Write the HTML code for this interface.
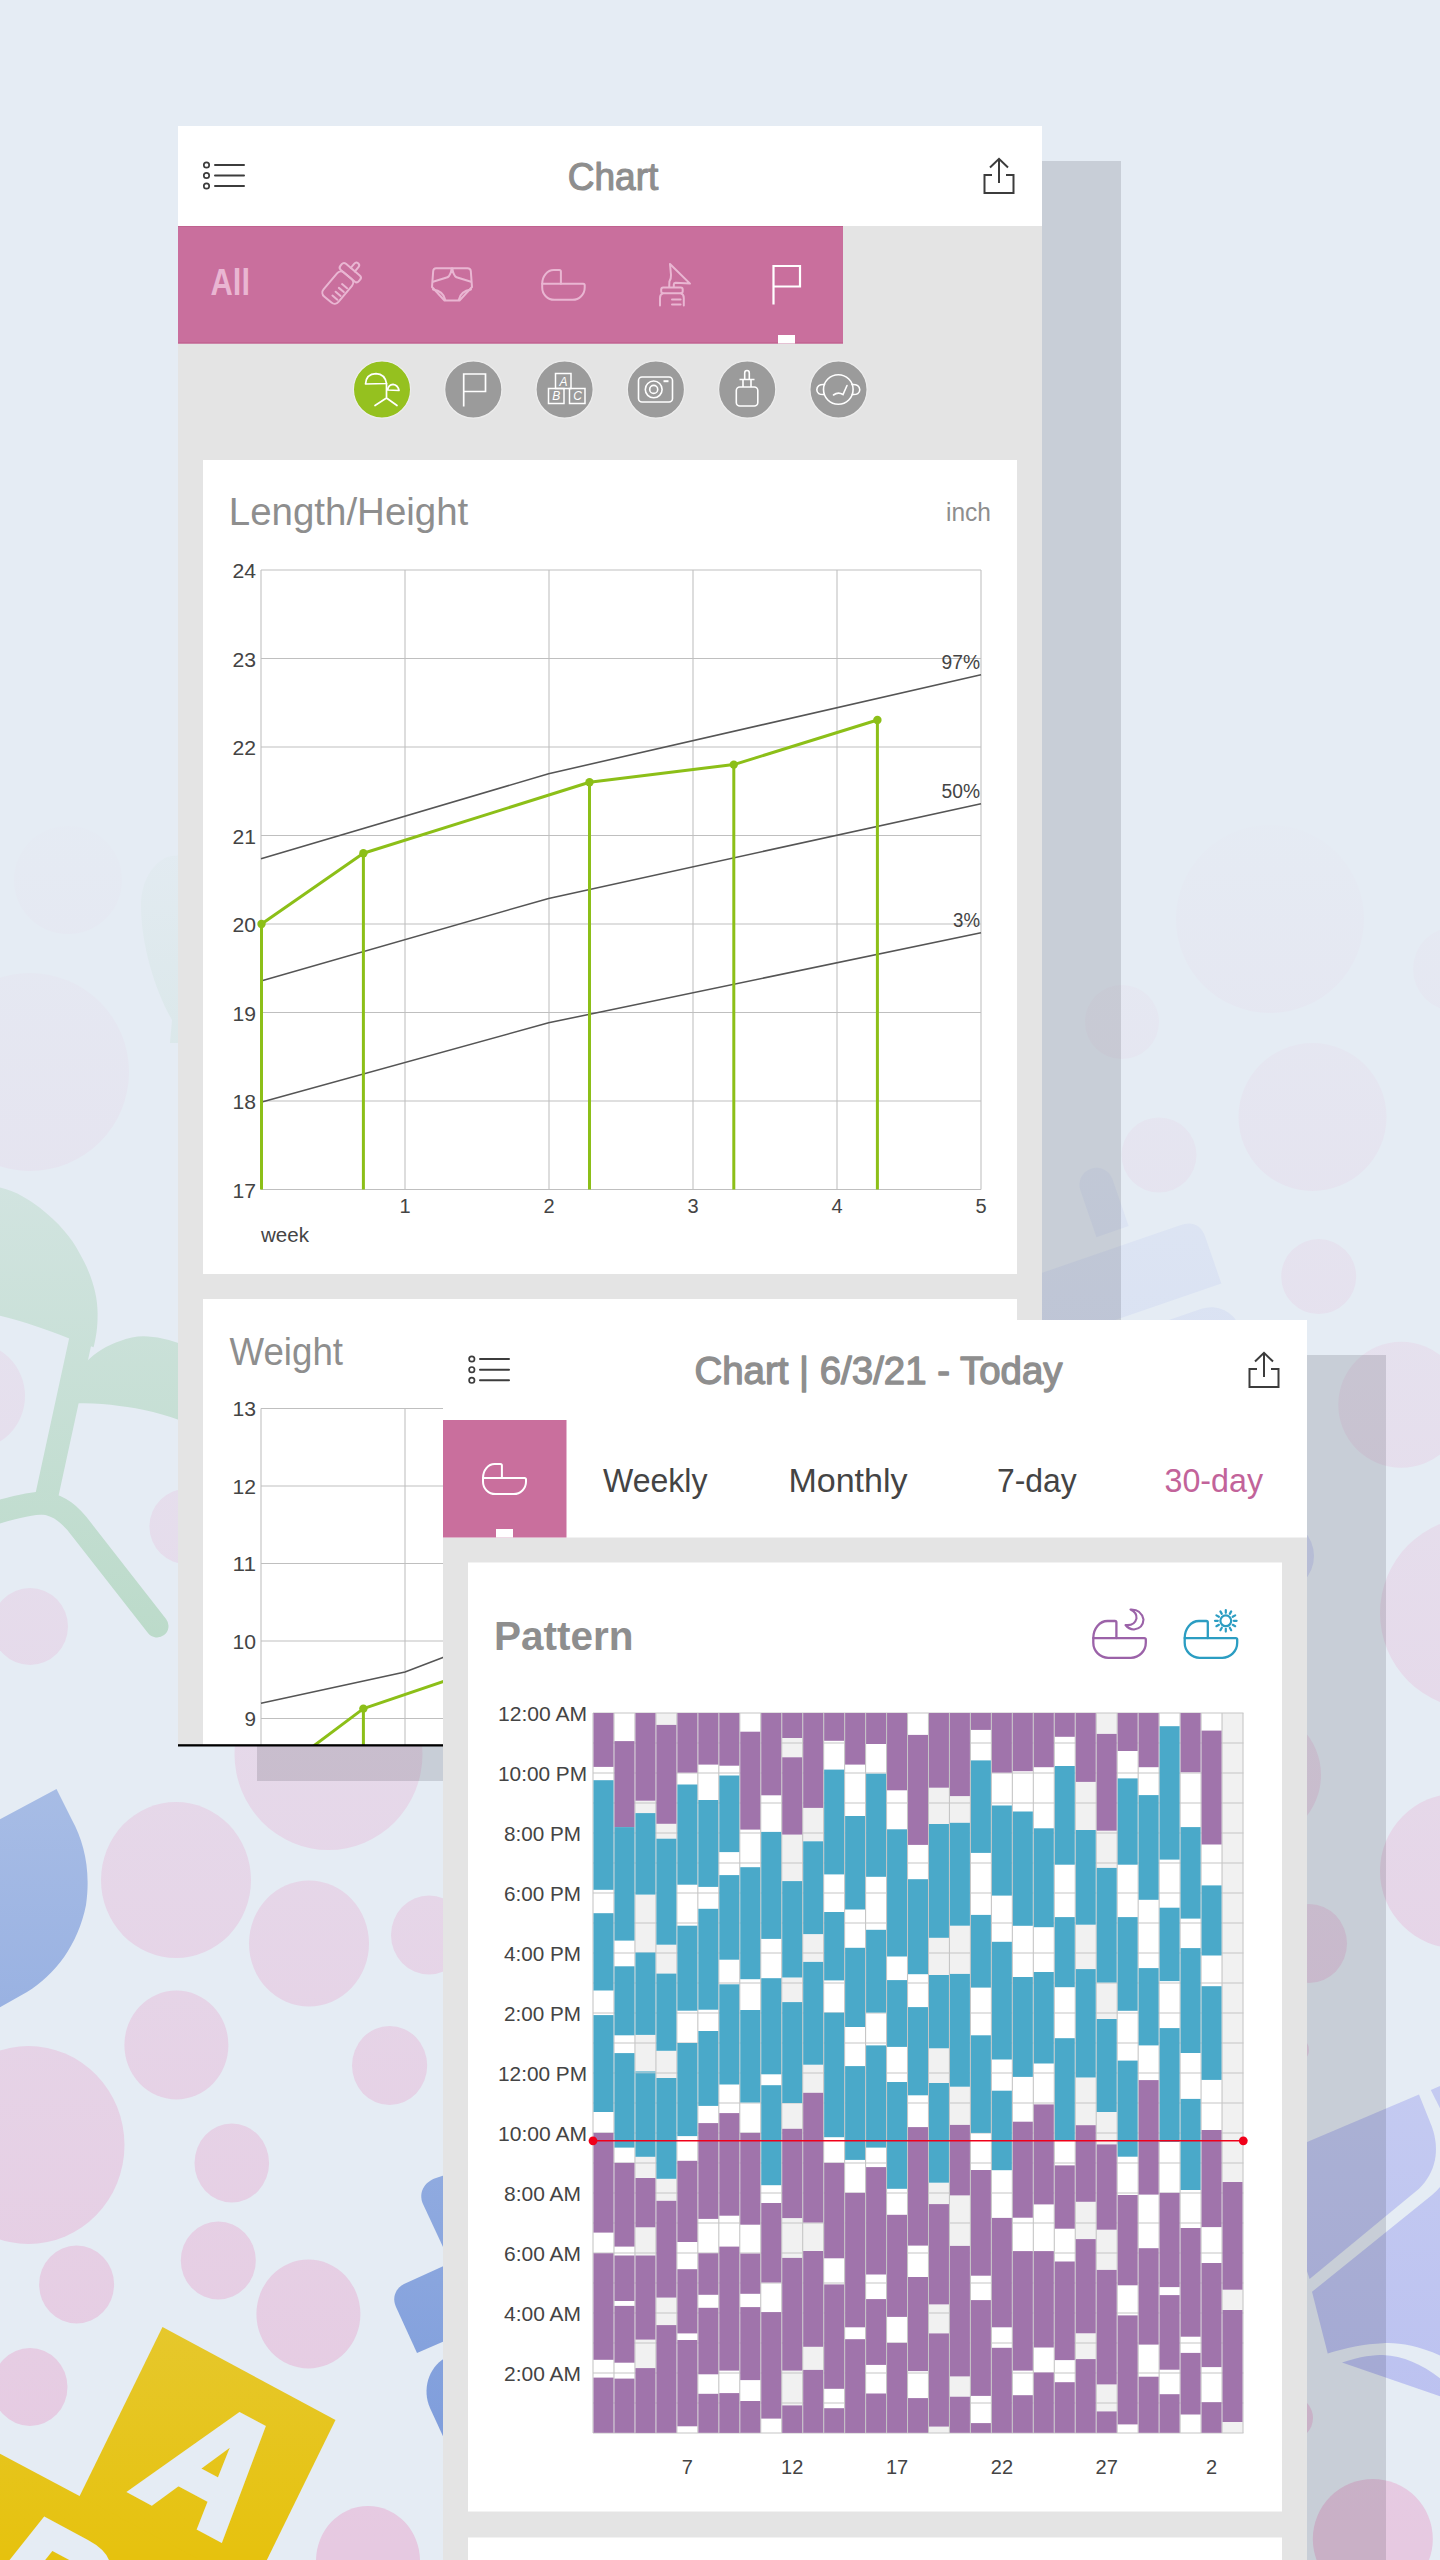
<!DOCTYPE html>
<html lang="en"><head><meta charset="utf-8"><title>Chart</title>
<style>html,body{margin:0;padding:0;background:#e5ecf4;}body{width:1440px;height:2560px;overflow:hidden;}svg{display:block;font-family:"Liberation Sans",sans-serif;}</style></head>
<body>
<svg width="1440" height="2560" viewBox="0 0 1440 2560">
<rect x="0" y="0" width="1440" height="2560" fill="#e5ecf4"/>
<g id="bg-shapes">
<ellipse cx="68" cy="880" rx="54" ry="54" fill="#e6c9e1"/>
<ellipse cx="30" cy="1072" rx="99" ry="99" fill="#e6c9e1"/>
<ellipse cx="-29" cy="1396" rx="54" ry="54" fill="#e6c9e1"/>
<ellipse cx="30" cy="1626.5" rx="38" ry="38.5" fill="#e6c9e1"/>
<ellipse cx="187.4" cy="1526.5" rx="38" ry="38" fill="#e6c9e1"/>
<ellipse cx="328.5" cy="1754" rx="94" ry="96" fill="#e6c9e1"/>
<ellipse cx="176" cy="1880" rx="75" ry="78" fill="#e6c9e1"/>
<ellipse cx="309" cy="1943.5" rx="60" ry="63" fill="#e6c9e1"/>
<ellipse cx="429" cy="1935" rx="38" ry="39.5" fill="#e6c9e1"/>
<ellipse cx="176.4" cy="2045" rx="52" ry="54.5" fill="#e6c9e1"/>
<ellipse cx="389.6" cy="2065.5" rx="37.6" ry="39.5" fill="#e6c9e1"/>
<ellipse cx="28.5" cy="2145" rx="96" ry="99" fill="#e6c9e1"/>
<ellipse cx="231.8" cy="2163" rx="37.3" ry="39.5" fill="#e6c9e1"/>
<ellipse cx="218.3" cy="2260.5" rx="37.5" ry="39" fill="#e6c9e1"/>
<ellipse cx="308.4" cy="2314" rx="52" ry="54.5" fill="#e6c9e1"/>
<ellipse cx="76.6" cy="2284.5" rx="37.5" ry="39" fill="#e6c9e1"/>
<ellipse cx="30" cy="2387" rx="37.5" ry="39" fill="#e6c9e1"/>
<ellipse cx="368" cy="2561" rx="52" ry="55" fill="#e6c9e1"/>
<ellipse cx="1270" cy="919" rx="94" ry="94" fill="#e6c9e1"/>
<ellipse cx="1312.5" cy="1117" rx="74" ry="74" fill="#e6c9e1"/>
<ellipse cx="1159" cy="1155" rx="37.5" ry="37.5" fill="#e6c9e1"/>
<ellipse cx="1122" cy="1022" rx="37" ry="37" fill="#e6c9e1"/>
<ellipse cx="1318.7" cy="1276.6" rx="37.5" ry="37.5" fill="#e6c9e1"/>
<ellipse cx="1401.3" cy="1404.7" rx="63" ry="63" fill="#e6c9e1"/>
<ellipse cx="1455" cy="969" rx="42" ry="42" fill="#e6c9e1"/>
<ellipse cx="1476" cy="1613" rx="96" ry="96" fill="#e6c9e1"/>
<ellipse cx="1457.6" cy="1871" rx="77.6" ry="77.6" fill="#e6c9e1"/>
<ellipse cx="1309" cy="1943.5" rx="38" ry="39.5" fill="#e6c9e1"/>
<ellipse cx="1255" cy="1775" rx="66" ry="66" fill="#e6c9e1"/>
<ellipse cx="1372.8" cy="2539" rx="60" ry="60" fill="#e6c9e1"/>
<ellipse cx="1292" cy="2418" rx="21" ry="21.5" fill="#e6c9e1"/>
<ellipse cx="1293" cy="2050" rx="16" ry="14" fill="#e6c9e1"/>
<ellipse cx="150" cy="180" rx="60" ry="60" fill="#e6c9e1"/>
<ellipse cx="1180" cy="520" rx="70" ry="70" fill="#e6c9e1"/>
<ellipse cx="1300" cy="300" rx="45" ry="45" fill="#e6c9e1"/>
<circle cx="1278" cy="1556" r="36" fill="#b8bef0"/>
<g fill="#90c89d">
<path d="M-5 1186.5 C15 1190 28 1199 39.8 1207.8 C58 1222 72 1238 79.7 1253.6 C92 1275 98 1296 97.6 1315.3 C97.6 1328 96 1338 93.6 1347.2 L68.7 1338.2 C48 1330 20 1320 -5 1314.5 Z"/>
<path d="M86 1362 C96 1352 108 1345 119.5 1341.2 C128 1338 136 1336.3 143.4 1336.3 C156 1336.5 168 1339 190 1347 L190 1424 C165 1414 140 1408 119.5 1406 C105 1404 92 1403 76 1403.5 Z"/>
<path d="M141 905 C141 885 150 866 165 858 C172 855 182 855 190 857 L190 1043 L170 1043 L172 1020 C155 990 141 945 141 905 Z" opacity="0.75"/>
</g>
<g fill="none" stroke="#90c89d" stroke-width="23" stroke-linecap="round">
<path d="M81 1338 L46.5 1497"/>
<path d="M44 1503 C30 1503 14 1507 -12 1515"/>
<path d="M44 1503 C60 1506 70 1514 82 1530 L157 1626"/>
</g>
<path d="M56.5 1789 L-5 1822 L-5 2010 L27 1992 C55 1975 78 1945 86 1905 C91 1870 84 1842 72 1820 Z" fill="#7898da"/>
<g fill="#7898da">
<path d="M460 2170 L436 2178 C424 2182 418 2193 423 2204 L450 2262 L470 2255 Z"/>
<path d="M470 2254 L404 2284 C395 2289 392 2298 396 2307 L417 2353 L470 2330 Z"/>
<path d="M470 2345 L445 2358 C428 2368 422 2390 430 2408 L470 2495 Z"/>
</g>
<g fill="#c3cdf0" transform="rotate(-19 1130 1270)">
<path d="M1020 1244 H1192 Q1212 1244 1212 1264 V1312.4 H1020 Z"/>
<path d="M1109 1228 V1178.5 A17 17 0 0 1 1143 1178.5 V1228 Z"/>
<rect x="1050" y="1330" width="165" height="60" rx="30"/>
</g>
<g fill="#b8bef0">
<path d="M1300 2145 L1419 2094.6 L1432 2127 C1440 2150 1436 2172 1419 2188.7 L1309.6 2279 L1300 2250 Z"/>
<path d="M1430.8 2090 L1445 2084 L1445 2118 Z"/>
<path d="M1312 2291.8 L1432 2195 C1438 2190 1442 2185 1445 2180 L1445 2358 C1420 2345 1395 2342 1383 2343.3 C1365 2344 1345 2348 1327.7 2353.6 Z"/>
<path d="M1342 2362.6 C1360 2356 1375 2355 1383 2355 C1405 2356 1425 2366 1445 2382 L1445 2398 Z"/>
</g>
<g fill="#e6c20e">
<path d="M162.5 2327 L335.5 2420 L247.5 2599.4 L74.5 2506.4 Z"/>
<path d="M-20 2443.2 L215 2568 L215 2600 L-20 2600 Z"/>
</g>
<text x="0" y="0" font-size="100" font-weight="700" fill="#e5ecf4" stroke="#e5ecf4" stroke-width="5" stroke-linejoin="miter" transform="matrix(1.285 0.685 -1.064 1.337 130.5 2489.5)">A</text>
<text x="0" y="0" font-size="100" font-weight="700" fill="#e5ecf4" stroke="#e5ecf4" stroke-width="5" stroke-linejoin="miter" transform="matrix(1.285 0.685 -1.064 1.337 -37 2609)">B</text>
</g>
<defs><linearGradient id="fade" gradientUnits="userSpaceOnUse" x1="0" y1="0" x2="0" y2="2560"><stop offset="0" stop-color="#e5ecf4" stop-opacity="1"/><stop offset="0.30" stop-color="#e5ecf4" stop-opacity="1"/><stop offset="1" stop-color="#e5ecf4" stop-opacity="0"/></linearGradient></defs>
<rect x="0" y="0" width="1440" height="2560" fill="url(#fade)"/>
<g id="screen1">
<rect x="257.00" y="161.00" width="864.00" height="1620.00" fill="rgba(5,8,20,0.13)"/>
<rect x="178.00" y="126.00" width="864.00" height="1620.00" fill="#e4e4e4"/>
<rect x="178.00" y="126.00" width="864.00" height="100.00" fill="#ffffff"/>
<g stroke="#3c3c3c" fill="none" stroke-linecap="round"><circle cx="206.5" cy="165" r="2.7" stroke-width="1.7"/><path d="M215 165 H244" stroke-width="2"/><circle cx="206.5" cy="175.5" r="2.7" stroke-width="1.7"/><path d="M215 175.5 H244" stroke-width="2"/><circle cx="206.5" cy="186" r="2.7" stroke-width="1.7"/><path d="M215 186 H244" stroke-width="2"/></g>
<text x="567.8" y="190.0" font-size="38.5" fill="#8e8e8e" stroke="#8e8e8e" stroke-width="1.15" stroke-linejoin="round" textLength="90.5" lengthAdjust="spacingAndGlyphs">Chart</text>
<g stroke="#3c3c3c" fill="none" stroke-width="2" stroke-linejoin="miter"><path d="M999 159 V183"/><path d="M990 167.5 L999 158.8 L1008 167.5"/><path d="M992 175 H984.5 V193 H1013.5 V175 H1006"/></g>
<rect x="178.00" y="226.00" width="665.00" height="117.50" fill="#c96f9d"/>
<rect x="178.00" y="226.00" width="665.00" height="1.00" fill="#c0628f"/>
<rect x="178.00" y="342.30" width="665.00" height="1.20" fill="#c0628f"/>
<rect x="778.00" y="335.00" width="17.00" height="8.50" fill="#ffffff"/>
<text x="210.5" y="294.5" font-size="36.5" fill="#e9b6d2" font-weight="700" textLength="39.5" lengthAdjust="spacingAndGlyphs">All</text>
<g transform="translate(342.9 281.5) rotate(40)" stroke="#e9b6d2" fill="none" stroke-width="2" stroke-linejoin="round" stroke-linecap="round"><rect x="-9.75" y="-7.5" width="19.5" height="31" rx="5"/><rect x="-12" y="-15.5" width="24" height="8" rx="3"/><path d="M-2.7 -15.5 V-21 A2.7 2.7 0 0 1 2.7 -21 V-15.5"/><path d="M1 2.5 H7.5 M1 7.5 H7.5 M1 12.5 H7.5 M1 17.5 H7.5"/></g>
<g stroke="#e9b6d2" fill="none" stroke-width="2" stroke-linejoin="round" stroke-linecap="round"><path d="M436 268.2 H467.5 Q470.5 268.2 470.8 271 L472 287 L459.5 300.5 H444.5 L432 287 L433.2 271 Q433.5 268.2 436 268.2 Z"/><path d="M433 281.8 L447.5 277.3 Q451 275 451.6 268.4 M471 281.8 L456.5 277.3 Q453 275 452.4 268.4"/><path d="M433 289.5 Q443.5 291 445.3 300 M471 289.5 Q460.5 291 458.7 300"/></g>
<g stroke="#e9b6d2" fill="none" stroke-width="2" stroke-linejoin="round" stroke-linecap="round"><path d="M560.9 283.8 V271.5 Q560.9 270.0 559.4 270.0 H553.7 A11.5 13.8 0 0 0 542.2 283.8"/><path d="M542.2 283.8 H583.2 Q584.7 283.8 584.7 285.3 V287.6 A12.1 12.1 0 0 1 572.6 299.8 H554.3 A12.1 12.1 0 0 1 542.2 287.6 V283.8"/></g>
<g stroke="#e9b6d2" fill="none" stroke-width="2" stroke-linejoin="round" stroke-linecap="round"><path d="M669.2 287 L669.4 281.5 Q671.2 278.5 671 275 L670 264 L690 283.6 L675.5 282.8 Q673.8 283 673.8 284.5 V287"/><rect x="661.2" y="287.6" width="21.5" height="5.6" rx="2"/><path d="M660 305.6 V298 Q660 294.5 662.8 293.4 M683.8 305.6 V298 Q683.8 294.5 681 293.4"/><path d="M672 299.6 H680.6 M672 304.6 H680.6"/></g>
<g stroke="#ffffff" fill="none" stroke-width="2.2" stroke-linejoin="miter"><path d="M773.5 304.5 V266 H800 V286.5 H773.5"/></g>
<circle cx="382" cy="389.5" r="28.6" fill="#95c11f" stroke="#ededed" stroke-width="1.2"/>
<circle cx="473.3" cy="389.5" r="28.6" fill="#9b9b9b" stroke="#ededed" stroke-width="1.2"/>
<circle cx="564.6" cy="389.5" r="28.6" fill="#9b9b9b" stroke="#ededed" stroke-width="1.2"/>
<circle cx="655.9" cy="389.5" r="28.6" fill="#9b9b9b" stroke="#ededed" stroke-width="1.2"/>
<circle cx="747.2" cy="389.5" r="28.6" fill="#9b9b9b" stroke="#ededed" stroke-width="1.2"/>
<circle cx="838.5" cy="389.5" r="28.6" fill="#9b9b9b" stroke="#ededed" stroke-width="1.2"/>
<g stroke="#ffffff" fill="none" stroke-width="1.7" stroke-linecap="round" stroke-linejoin="round"><path d="M365.5 384 Q366 374 376 373.6 Q385 374 386.5 383.5 Z"/><path d="M387.5 390 Q388.5 384.5 393 384.3 Q398 385 399 390.5 Z"/><path d="M386.5 383.5 V398 M386.5 398 L375 405.5 M386.5 398 L397 405.5"/></g>
<g stroke="#ffffff" fill="none" stroke-width="1.7"><path d="M463.7 406.5 V374 H485.5 V391.5 H463.7"/></g>
<g stroke="#ffffff" fill="none" stroke-width="1.5"><rect x="555.5" y="373.5" width="15.5" height="15"/><rect x="548.5" y="388.5" width="15.5" height="15"/><rect x="569.5" y="388.5" width="15.5" height="15"/></g>
<g fill="#ffffff" font-size="12" font-style="italic" text-anchor="middle"><text x="563.6" y="385.5">A</text><text x="556.3" y="400.3">B</text><text x="577.5" y="400.3">C</text></g>
<g stroke="#ffffff" fill="none" stroke-width="1.6"><rect x="638.5" y="377" width="34" height="25" rx="3.5"/><circle cx="653.7" cy="389.4" r="8.4"/><circle cx="653.7" cy="389.4" r="4"/><path d="M663.5 381.2 H668.5" stroke-width="2"/></g>
<g stroke="#ffffff" fill="none" stroke-width="1.6" stroke-linejoin="round"><rect x="736.3" y="387" width="21.5" height="19" rx="3.5"/><path d="M743 387 V380 M751 387 V380 M739.5 379.5 H754.5"/><path d="M744.7 379 V373 Q744.7 370.5 747 370.5 Q749.3 370.5 749.3 373 V379"/></g>
<g stroke="#ffffff" fill="none" stroke-width="1.6" stroke-linecap="round"><circle cx="838.3" cy="389.5" r="14.8"/><path d="M824.5 384.5 Q817 384 816.8 389.8 Q817 395 824.2 394.5"/><path d="M852 384.5 Q859.5 384 859.8 389.8 Q859.5 395 852.3 394.5"/><path d="M833.5 395 Q838 391.5 843 394.5 L847 385.5"/></g>
<clipPath id="s1clip"><rect x="178" y="126" width="864" height="1620"/></clipPath>
<g clip-path="url(#s1clip)">
<rect x="203.00" y="460.00" width="814.00" height="814.00" fill="#ffffff"/>
<text x="228.8" y="525.0" font-size="38" fill="#8e8e8e" textLength="239.5" lengthAdjust="spacingAndGlyphs">Length/Height</text>
<text x="946.0" y="521.0" font-size="26" fill="#8e8e8e" textLength="45.0" lengthAdjust="spacingAndGlyphs">inch</text>
<g stroke="#bfbfbf" stroke-width="1.05" fill="none"><path d="M261 570 V1189.5"/><path d="M405 570 V1189.5"/><path d="M549 570 V1189.5"/><path d="M693 570 V1189.5"/><path d="M837 570 V1189.5"/><path d="M981 570 V1189.5"/><path d="M261 570.0 H981"/><path d="M261 658.5 H981"/><path d="M261 747.0 H981"/><path d="M261 835.5 H981"/><path d="M261 924.0 H981"/><path d="M261 1012.5 H981"/><path d="M261 1101.0 H981"/><path d="M261 1189.5 H981"/></g>
<text x="232.5" y="578.0" font-size="20" fill="#444444" textLength="23.5" lengthAdjust="spacingAndGlyphs">24</text>
<text x="232.5" y="666.5" font-size="20" fill="#444444" textLength="23.5" lengthAdjust="spacingAndGlyphs">23</text>
<text x="232.5" y="755.0" font-size="20" fill="#444444" textLength="23.5" lengthAdjust="spacingAndGlyphs">22</text>
<text x="232.5" y="843.5" font-size="20" fill="#444444" textLength="23.5" lengthAdjust="spacingAndGlyphs">21</text>
<text x="232.5" y="932.0" font-size="20" fill="#444444" textLength="23.5" lengthAdjust="spacingAndGlyphs">20</text>
<text x="232.5" y="1020.5" font-size="20" fill="#444444" textLength="23.5" lengthAdjust="spacingAndGlyphs">19</text>
<text x="232.5" y="1109.0" font-size="20" fill="#444444" textLength="23.5" lengthAdjust="spacingAndGlyphs">18</text>
<text x="232.5" y="1197.5" font-size="20" fill="#444444" textLength="23.5" lengthAdjust="spacingAndGlyphs">17</text>
<text x="405.0" y="1212.5" font-size="20" fill="#444444" text-anchor="middle">1</text>
<text x="549.0" y="1212.5" font-size="20" fill="#444444" text-anchor="middle">2</text>
<text x="693.0" y="1212.5" font-size="20" fill="#444444" text-anchor="middle">3</text>
<text x="837.0" y="1212.5" font-size="20" fill="#444444" text-anchor="middle">4</text>
<text x="981.0" y="1212.5" font-size="20" fill="#444444" text-anchor="middle">5</text>
<text x="261.0" y="1241.5" font-size="21" fill="#444444" textLength="48.0" lengthAdjust="spacingAndGlyphs">week</text>
<g stroke="#555555" stroke-width="1.55" fill="none"><path d="M261 858.7 L548.6 773.7 L981 674.7"/><path d="M261 981 L548.6 898.4 L981 803.7"/><path d="M261 1102.2 L548.6 1022.8 L981 932.7"/></g>
<text x="941.5" y="669.0" font-size="20" fill="#444444" textLength="38.5" lengthAdjust="spacingAndGlyphs">97%</text>
<text x="941.5" y="797.6" font-size="20" fill="#444444" textLength="38.5" lengthAdjust="spacingAndGlyphs">50%</text>
<text x="953.0" y="927.0" font-size="20" fill="#444444" textLength="27.0" lengthAdjust="spacingAndGlyphs">3%</text>
<g stroke="#8cbf18" stroke-width="3" fill="none" stroke-linejoin="round"><path d="M261.5 924 L363.4 853.2 L589.5 782.3 L733.8 764.6 L877.4 720"/><path d="M261.5 924 V1189.5"/><path d="M363.4 853.2 V1189.5"/><path d="M589.5 782.3 V1189.5"/><path d="M733.8 764.6 V1189.5"/><path d="M877.4 720 V1189.5"/></g>
<circle cx="261.5" cy="924" r="4.2" fill="#8cbf18"/><circle cx="363.4" cy="853.2" r="4.2" fill="#8cbf18"/><circle cx="589.5" cy="782.3" r="4.2" fill="#8cbf18"/><circle cx="733.8" cy="764.6" r="4.2" fill="#8cbf18"/><circle cx="877.4" cy="720" r="4.2" fill="#8cbf18"/>
<rect x="203.00" y="1299.00" width="814.00" height="500.00" fill="#ffffff"/>
<text x="229.5" y="1365.0" font-size="38" fill="#8e8e8e" textLength="113.5" lengthAdjust="spacingAndGlyphs">Weight</text>
<g stroke="#bfbfbf" stroke-width="1.05" fill="none"><path d="M261 1408.4 V1800"/><path d="M405 1408.4 V1800"/><path d="M549 1408.4 V1800"/><path d="M693 1408.4 V1800"/><path d="M837 1408.4 V1800"/><path d="M981 1408.4 V1800"/><path d="M261 1408.4 H981"/><path d="M261 1485.9 H981"/><path d="M261 1563.4 H981"/><path d="M261 1640.9 H981"/><path d="M261 1718.4 H981"/><path d="M261 1795.9 H981"/></g>
<text x="232.5" y="1416.4" font-size="20" fill="#444444" textLength="23.5" lengthAdjust="spacingAndGlyphs">13</text>
<text x="232.5" y="1493.9" font-size="20" fill="#444444" textLength="23.5" lengthAdjust="spacingAndGlyphs">12</text>
<text x="232.5" y="1571.4" font-size="20" fill="#444444" textLength="23.5" lengthAdjust="spacingAndGlyphs">11</text>
<text x="232.5" y="1648.9" font-size="20" fill="#444444" textLength="23.5" lengthAdjust="spacingAndGlyphs">10</text>
<text x="244.5" y="1726.4" font-size="20" fill="#444444" textLength="11.5" lengthAdjust="spacingAndGlyphs">9</text>
<path d="M261 1703.2 L405 1672 L549 1617" stroke="#555555" stroke-width="1.55" fill="none"/>
<g stroke="#8cbf18" stroke-width="3" fill="none" stroke-linejoin="round"><path d="M261.5 1785 L363.4 1708.6 L589.5 1632"/><path d="M363.4 1708.6 V1800"/></g>
<circle cx="363.4" cy="1708.6" r="4.2" fill="#8cbf18"/>
</g>
<rect x="178.00" y="1744.20" width="864.00" height="2.30" fill="#000000"/>
</g>
<g id="screen2">
<rect x="522.00" y="1355.00" width="864.00" height="1300.00" fill="rgba(5,8,20,0.13)"/>
<rect x="443.00" y="1320.00" width="864.00" height="1300.00" fill="#e4e4e4"/>
<rect x="443.00" y="1320.00" width="864.00" height="217.50" fill="#ffffff"/>
<g stroke="#3c3c3c" fill="none" stroke-linecap="round"><circle cx="471.8" cy="1359" r="2.7" stroke-width="1.7"/><path d="M480 1359 H509" stroke-width="2"/><circle cx="471.8" cy="1369.7" r="2.7" stroke-width="1.7"/><path d="M480 1369.7 H509" stroke-width="2"/><circle cx="471.8" cy="1380.3" r="2.7" stroke-width="1.7"/><path d="M480 1380.3 H509" stroke-width="2"/></g>
<text x="694.5" y="1383.7" font-size="38" fill="#8e8e8e" stroke="#8e8e8e" stroke-width="1.3" stroke-linejoin="round" textLength="368.0" lengthAdjust="spacingAndGlyphs">Chart | 6/3/21 - Today</text>
<g stroke="#3c3c3c" fill="none" stroke-width="2" stroke-linejoin="miter"><path d="M1264 1353 V1377"/><path d="M1255 1361.5 L1264 1352.8 L1273 1361.5"/><path d="M1257 1369 H1249.5 V1387 H1278.5 V1369 H1271"/></g>
<rect x="443.00" y="1420.00" width="123.50" height="117.50" fill="#c96f9d"/>
<rect x="496.00" y="1529.00" width="17.00" height="8.50" fill="#ffffff"/>
<g stroke="#ffffff" fill="none" stroke-width="2" stroke-linejoin="round" stroke-linecap="round"><path d="M501.9 1478.0 V1465.5 Q501.9 1464.0 500.4 1464.0 H494.6 A11.6 14.0 0 0 0 483.0 1478.0"/><path d="M483.0 1478.0 H524.5 Q526.0 1478.0 526.0 1479.5 V1481.8 A12.3 12.3 0 0 1 513.7 1494.1 H495.3 A12.3 12.3 0 0 1 483.0 1481.8 V1478.0"/></g>
<text x="603.0" y="1492.0" font-size="34" fill="#444444" textLength="104.5" lengthAdjust="spacingAndGlyphs">Weekly</text>
<text x="788.4" y="1492.0" font-size="34" fill="#444444" textLength="119.2" lengthAdjust="spacingAndGlyphs">Monthly</text>
<text x="997.0" y="1492.0" font-size="34" fill="#444444" textLength="79.7" lengthAdjust="spacingAndGlyphs">7-day</text>
<text x="1164.5" y="1492.0" font-size="34" fill="#c2639a" textLength="98.5" lengthAdjust="spacingAndGlyphs">30-day</text>
<rect x="468.00" y="1562.50" width="814.00" height="949.00" fill="#ffffff"/>
<rect x="468.00" y="2537.50" width="814.00" height="40.00" fill="#ffffff"/>
<text x="494.0" y="1650.0" font-size="41.5" fill="#8e8e8e" font-weight="700" textLength="139.5" lengthAdjust="spacingAndGlyphs">Pattern</text>
<g stroke="#9b62a8" fill="none" stroke-width="2.3" stroke-linejoin="round" stroke-linecap="round"><path d="M1116.4 1638.1 V1622.5 Q1116.4 1621.0 1114.9 1621.0 H1107.5 A14.2 17.1 0 0 0 1093.3 1638.1"/><path d="M1093.3 1638.1 H1144.3 Q1145.8 1638.1 1145.8 1639.6 V1642.8 A15.0 15.0 0 0 1 1130.8 1657.8 H1108.3 A15.0 15.0 0 0 1 1093.3 1642.8 V1638.1"/></g>
<path d="M1130.5 1609.5 Q1141 1609 1143.5 1619.5 Q1143 1628.5 1134 1629.5 Q1128.5 1629 1125.5 1625 Q1134.5 1626 1136.5 1618.5 Q1137 1612.5 1130.5 1609.5 Z" fill="none" stroke="#9b62a8" stroke-width="2.1" stroke-linejoin="round"/>
<g stroke="#2b9dc2" fill="none" stroke-width="2.3" stroke-linejoin="round" stroke-linecap="round"><path d="M1207.8 1638.1 V1622.5 Q1207.8 1621.0 1206.3 1621.0 H1198.9 A14.2 17.1 0 0 0 1184.7 1638.1"/><path d="M1184.7 1638.1 H1235.7 Q1237.2 1638.1 1237.2 1639.6 V1642.8 A15.0 15.0 0 0 1 1222.2 1657.8 H1199.7 A15.0 15.0 0 0 1 1184.7 1642.8 V1638.1"/></g>
<g stroke="#2b9dc2" stroke-width="2.2" fill="none" stroke-linecap="round"><circle cx="1225.8" cy="1620.8" r="5.4"/><path d="M1233.8 1620.8 L1236.6 1620.8"/><path d="M1232.7 1624.8 L1235.2 1626.2"/><path d="M1229.8 1627.7 L1231.2 1630.2"/><path d="M1225.8 1628.8 L1225.8 1631.6"/><path d="M1221.8 1627.7 L1220.4 1630.2"/><path d="M1218.9 1624.8 L1216.4 1626.2"/><path d="M1217.8 1620.8 L1215.0 1620.8"/><path d="M1218.9 1616.8 L1216.4 1615.4"/><path d="M1221.8 1613.9 L1220.4 1611.4"/><path d="M1225.8 1612.8 L1225.8 1610.0"/><path d="M1229.8 1613.9 L1231.2 1611.4"/><path d="M1232.7 1616.8 L1235.2 1615.4"/></g>
<g id="pattern">
<rect x="634.94" y="1800.7" width="20.97" height="12.4" fill="#f1f1f1"/><rect x="634.94" y="1894.7" width="20.97" height="57.8" fill="#f1f1f1"/><rect x="634.94" y="2034.9" width="20.97" height="36.6" fill="#f1f1f1"/><rect x="634.94" y="2072.5" width="20.97" height="0.7" fill="#f1f1f1"/><rect x="634.94" y="2156.7" width="20.97" height="21.2" fill="#f1f1f1"/><rect x="634.94" y="2227.3" width="20.97" height="28.2" fill="#f1f1f1"/><rect x="634.94" y="2339.6" width="20.97" height="28.5" fill="#f1f1f1"/><rect x="655.90" y="1713.0" width="20.97" height="11.9" fill="#f1f1f1"/><rect x="655.90" y="1823.8" width="20.97" height="14.9" fill="#f1f1f1"/><rect x="655.90" y="1944.7" width="20.97" height="28.9" fill="#f1f1f1"/><rect x="655.90" y="2050.8" width="20.97" height="27.2" fill="#f1f1f1"/><rect x="655.90" y="2178.7" width="20.97" height="22.1" fill="#f1f1f1"/><rect x="655.90" y="2297.7" width="20.97" height="27.5" fill="#f1f1f1"/><rect x="781.71" y="1738.0" width="20.97" height="19.4" fill="#f1f1f1"/><rect x="781.71" y="1834.7" width="20.97" height="46.4" fill="#f1f1f1"/><rect x="781.71" y="1977.5" width="20.97" height="24.6" fill="#f1f1f1"/><rect x="781.71" y="2103.0" width="20.97" height="25.9" fill="#f1f1f1"/><rect x="781.71" y="2218.2" width="20.97" height="39.8" fill="#f1f1f1"/><rect x="781.71" y="2370.7" width="20.97" height="34.7" fill="#f1f1f1"/><rect x="802.68" y="1807.9" width="20.97" height="33.4" fill="#f1f1f1"/><rect x="802.68" y="1934.1" width="20.97" height="27.8" fill="#f1f1f1"/><rect x="802.68" y="2064.6" width="20.97" height="28.2" fill="#f1f1f1"/><rect x="802.68" y="2222.5" width="20.97" height="28.5" fill="#f1f1f1"/><rect x="802.68" y="2346.8" width="20.97" height="23.1" fill="#f1f1f1"/><rect x="928.48" y="1787.7" width="20.97" height="36.3" fill="#f1f1f1"/><rect x="928.48" y="1937.7" width="20.97" height="37.3" fill="#f1f1f1"/><rect x="928.48" y="2048.3" width="20.97" height="34.7" fill="#f1f1f1"/><rect x="928.48" y="2182.7" width="20.97" height="21.4" fill="#f1f1f1"/><rect x="928.48" y="2304.5" width="20.97" height="28.9" fill="#f1f1f1"/><rect x="928.48" y="2426.6" width="20.97" height="6.2" fill="#f1f1f1"/><rect x="949.45" y="1796.1" width="20.97" height="26.7" fill="#f1f1f1"/><rect x="949.45" y="1925.7" width="20.97" height="48.1" fill="#f1f1f1"/><rect x="949.45" y="2086.6" width="20.97" height="38.3" fill="#f1f1f1"/><rect x="949.45" y="2195.5" width="20.97" height="50.4" fill="#f1f1f1"/><rect x="949.45" y="2376.4" width="20.97" height="20.2" fill="#f1f1f1"/><rect x="1075.26" y="1781.9" width="20.97" height="48.1" fill="#f1f1f1"/><rect x="1075.26" y="1924.7" width="20.97" height="44.4" fill="#f1f1f1"/><rect x="1075.26" y="2077.5" width="20.97" height="47.7" fill="#f1f1f1"/><rect x="1075.26" y="2201.8" width="20.97" height="37.3" fill="#f1f1f1"/><rect x="1075.26" y="2333.4" width="20.97" height="25.7" fill="#f1f1f1"/><rect x="1096.23" y="1713.0" width="20.97" height="20.9" fill="#f1f1f1"/><rect x="1096.23" y="1830.8" width="20.97" height="37.1" fill="#f1f1f1"/><rect x="1096.23" y="1982.5" width="20.97" height="36.4" fill="#f1f1f1"/><rect x="1096.23" y="2111.9" width="20.97" height="32.5" fill="#f1f1f1"/><rect x="1096.23" y="2229.7" width="20.97" height="40.2" fill="#f1f1f1"/><rect x="1096.23" y="2384.4" width="20.97" height="27.0" fill="#f1f1f1"/><rect x="1222.03" y="1713.0" width="20.97" height="469.0" fill="#f1f1f1"/><rect x="1222.03" y="2289.7" width="20.97" height="20.2" fill="#f1f1f1"/><rect x="1222.03" y="2422.0" width="20.97" height="10.8" fill="#f1f1f1"/>
<g stroke="#c6c6c6" stroke-width="1.1" fill="none"><path d="M593 1713.0 H1243.5"/><path d="M593 1743.0 H1243.5"/><path d="M593 1773.0 H1243.5"/><path d="M593 1803.0 H1243.5"/><path d="M593 1833.0 H1243.5"/><path d="M593 1863.0 H1243.5"/><path d="M593 1893.0 H1243.5"/><path d="M593 1923.0 H1243.5"/><path d="M593 1953.0 H1243.5"/><path d="M593 1983.0 H1243.5"/><path d="M593 2013.0 H1243.5"/><path d="M593 2043.0 H1243.5"/><path d="M593 2073.0 H1243.5"/><path d="M593 2103.0 H1243.5"/><path d="M593 2133.0 H1243.5"/><path d="M593 2163.0 H1243.5"/><path d="M593 2193.0 H1243.5"/><path d="M593 2223.0 H1243.5"/><path d="M593 2253.0 H1243.5"/><path d="M593 2283.0 H1243.5"/><path d="M593 2313.0 H1243.5"/><path d="M593 2343.0 H1243.5"/><path d="M593 2373.0 H1243.5"/><path d="M593 2403.0 H1243.5"/><path d="M593 2433.0 H1243.5"/><path d="M593.00 1713.0 V2433.0"/><path d="M613.97 1713.0 V2433.0"/><path d="M634.94 1713.0 V2433.0"/><path d="M655.90 1713.0 V2433.0"/><path d="M676.87 1713.0 V2433.0"/><path d="M697.84 1713.0 V2433.0"/><path d="M718.81 1713.0 V2433.0"/><path d="M739.77 1713.0 V2433.0"/><path d="M760.74 1713.0 V2433.0"/><path d="M781.71 1713.0 V2433.0"/><path d="M802.68 1713.0 V2433.0"/><path d="M823.65 1713.0 V2433.0"/><path d="M844.61 1713.0 V2433.0"/><path d="M865.58 1713.0 V2433.0"/><path d="M886.55 1713.0 V2433.0"/><path d="M907.52 1713.0 V2433.0"/><path d="M928.48 1713.0 V2433.0"/><path d="M949.45 1713.0 V2433.0"/><path d="M970.42 1713.0 V2433.0"/><path d="M991.39 1713.0 V2433.0"/><path d="M1012.35 1713.0 V2433.0"/><path d="M1033.32 1713.0 V2433.0"/><path d="M1054.29 1713.0 V2433.0"/><path d="M1075.26 1713.0 V2433.0"/><path d="M1096.23 1713.0 V2433.0"/><path d="M1117.19 1713.0 V2433.0"/><path d="M1138.16 1713.0 V2433.0"/><path d="M1159.13 1713.0 V2433.0"/><path d="M1180.10 1713.0 V2433.0"/><path d="M1201.06 1713.0 V2433.0"/><path d="M1222.03 1713.0 V2433.0"/><path d="M1243.00 1713.0 V2433.0"/></g>
<rect x="593.50" y="1713.0" width="19.97" height="53.9" fill="#a074ab"/><rect x="593.50" y="1780.2" width="19.97" height="109.6" fill="#4aa9c9"/><rect x="593.50" y="1913.2" width="19.97" height="77.3" fill="#4aa9c9"/><rect x="593.50" y="2015.1" width="19.97" height="96.9" fill="#4aa9c9"/><rect x="593.50" y="2132.9" width="19.97" height="99.7" fill="#a074ab"/><rect x="593.50" y="2253.3" width="19.97" height="106.5" fill="#a074ab"/><rect x="593.50" y="2377.6" width="19.97" height="55.2" fill="#a074ab"/><rect x="614.47" y="1741.1" width="19.97" height="86.0" fill="#a074ab"/><rect x="614.47" y="1827.1" width="19.97" height="113.5" fill="#4aa9c9"/><rect x="614.47" y="1966.3" width="19.97" height="69.0" fill="#4aa9c9"/><rect x="614.47" y="2053.1" width="19.97" height="94.5" fill="#4aa9c9"/><rect x="614.47" y="2162.9" width="19.97" height="83.7" fill="#a074ab"/><rect x="614.47" y="2255.5" width="19.97" height="45.5" fill="#a074ab"/><rect x="614.47" y="2305.9" width="19.97" height="56.8" fill="#a074ab"/><rect x="614.47" y="2378.6" width="19.97" height="54.2" fill="#a074ab"/><rect x="635.44" y="1713.0" width="19.97" height="87.7" fill="#a074ab"/><rect x="635.44" y="1813.1" width="19.97" height="81.5" fill="#4aa9c9"/><rect x="635.44" y="1952.5" width="19.97" height="82.4" fill="#4aa9c9"/><rect x="635.44" y="2071.4" width="19.97" height="1.1" fill="#4aa9c9"/><rect x="635.44" y="2073.2" width="19.97" height="83.6" fill="#4aa9c9"/><rect x="635.44" y="2178.0" width="19.97" height="49.3" fill="#a074ab"/><rect x="635.44" y="2255.5" width="19.97" height="84.1" fill="#a074ab"/><rect x="635.44" y="2368.1" width="19.97" height="64.8" fill="#a074ab"/><rect x="656.40" y="1724.9" width="19.97" height="98.9" fill="#a074ab"/><rect x="656.40" y="1838.7" width="19.97" height="106.0" fill="#4aa9c9"/><rect x="656.40" y="1973.6" width="19.97" height="77.2" fill="#4aa9c9"/><rect x="656.40" y="2078.0" width="19.97" height="100.8" fill="#4aa9c9"/><rect x="656.40" y="2200.8" width="19.97" height="96.8" fill="#a074ab"/><rect x="656.40" y="2325.1" width="19.97" height="107.7" fill="#a074ab"/><rect x="677.37" y="1713.0" width="19.97" height="59.6" fill="#a074ab"/><rect x="677.37" y="1784.5" width="19.97" height="100.2" fill="#4aa9c9"/><rect x="677.37" y="1925.7" width="19.97" height="85.0" fill="#4aa9c9"/><rect x="677.37" y="2043.0" width="19.97" height="93.1" fill="#4aa9c9"/><rect x="677.37" y="2160.8" width="19.97" height="81.2" fill="#a074ab"/><rect x="677.37" y="2269.2" width="19.97" height="64.2" fill="#a074ab"/><rect x="677.37" y="2340.0" width="19.97" height="86.3" fill="#a074ab"/><rect x="698.34" y="1713.0" width="19.97" height="51.6" fill="#a074ab"/><rect x="698.34" y="1800.0" width="19.97" height="86.9" fill="#4aa9c9"/><rect x="698.34" y="1908.8" width="19.97" height="100.9" fill="#4aa9c9"/><rect x="698.34" y="2031.0" width="19.97" height="74.9" fill="#4aa9c9"/><rect x="698.34" y="2123.1" width="19.97" height="95.8" fill="#a074ab"/><rect x="698.34" y="2253.3" width="19.97" height="41.5" fill="#a074ab"/><rect x="698.34" y="2307.8" width="19.97" height="66.5" fill="#a074ab"/><rect x="698.34" y="2393.8" width="19.97" height="39.0" fill="#a074ab"/><rect x="719.31" y="1713.0" width="19.97" height="52.7" fill="#a074ab"/><rect x="719.31" y="1775.5" width="19.97" height="76.6" fill="#4aa9c9"/><rect x="719.31" y="1875.1" width="19.97" height="84.6" fill="#4aa9c9"/><rect x="719.31" y="1984.3" width="19.97" height="100.2" fill="#4aa9c9"/><rect x="719.31" y="2113.1" width="19.97" height="102.6" fill="#a074ab"/><rect x="719.31" y="2246.6" width="19.97" height="124.0" fill="#a074ab"/><rect x="719.31" y="2393.1" width="19.97" height="39.8" fill="#a074ab"/><rect x="740.27" y="1731.7" width="19.97" height="97.9" fill="#a074ab"/><rect x="740.27" y="1867.2" width="19.97" height="112.0" fill="#4aa9c9"/><rect x="740.27" y="2010.0" width="19.97" height="92.5" fill="#4aa9c9"/><rect x="740.27" y="2132.9" width="19.97" height="91.8" fill="#a074ab"/><rect x="740.27" y="2253.6" width="19.97" height="40.2" fill="#a074ab"/><rect x="740.27" y="2307.1" width="19.97" height="73.0" fill="#a074ab"/><rect x="740.27" y="2401.0" width="19.97" height="31.8" fill="#a074ab"/><rect x="761.24" y="1713.0" width="19.97" height="82.3" fill="#a074ab"/><rect x="761.24" y="1831.9" width="19.97" height="107.0" fill="#4aa9c9"/><rect x="761.24" y="1978.2" width="19.97" height="96.1" fill="#4aa9c9"/><rect x="761.24" y="2085.2" width="19.97" height="100.0" fill="#4aa9c9"/><rect x="761.24" y="2203.0" width="19.97" height="79.5" fill="#a074ab"/><rect x="761.24" y="2312.1" width="19.97" height="106.5" fill="#a074ab"/><rect x="782.21" y="1713.0" width="19.97" height="25.0" fill="#a074ab"/><rect x="782.21" y="1757.3" width="19.97" height="77.3" fill="#a074ab"/><rect x="782.21" y="1881.1" width="19.97" height="96.4" fill="#4aa9c9"/><rect x="782.21" y="2002.1" width="19.97" height="100.9" fill="#4aa9c9"/><rect x="782.21" y="2128.8" width="19.97" height="89.3" fill="#a074ab"/><rect x="782.21" y="2257.9" width="19.97" height="112.7" fill="#a074ab"/><rect x="782.21" y="2405.4" width="19.97" height="27.5" fill="#a074ab"/><rect x="803.18" y="1713.0" width="19.97" height="94.9" fill="#a074ab"/><rect x="803.18" y="1841.3" width="19.97" height="92.8" fill="#4aa9c9"/><rect x="803.18" y="1961.9" width="19.97" height="102.8" fill="#4aa9c9"/><rect x="803.18" y="2092.8" width="19.97" height="129.7" fill="#a074ab"/><rect x="803.18" y="2251.0" width="19.97" height="95.8" fill="#a074ab"/><rect x="803.18" y="2369.9" width="19.97" height="62.9" fill="#a074ab"/><rect x="824.15" y="1713.0" width="19.97" height="27.8" fill="#a074ab"/><rect x="824.15" y="1769.6" width="19.97" height="104.8" fill="#4aa9c9"/><rect x="824.15" y="1912.0" width="19.97" height="68.4" fill="#4aa9c9"/><rect x="824.15" y="2012.6" width="19.97" height="124.6" fill="#4aa9c9"/><rect x="824.15" y="2162.9" width="19.97" height="95.4" fill="#a074ab"/><rect x="824.15" y="2284.4" width="19.97" height="104.4" fill="#a074ab"/><rect x="824.15" y="2408.2" width="19.97" height="24.6" fill="#a074ab"/><rect x="845.11" y="1713.0" width="19.97" height="51.6" fill="#a074ab"/><rect x="845.11" y="1816.0" width="19.97" height="93.5" fill="#4aa9c9"/><rect x="845.11" y="1947.8" width="19.97" height="79.2" fill="#4aa9c9"/><rect x="845.11" y="2066.1" width="19.97" height="93.8" fill="#4aa9c9"/><rect x="845.11" y="2192.9" width="19.97" height="134.4" fill="#a074ab"/><rect x="845.11" y="2339.2" width="19.97" height="93.7" fill="#a074ab"/><rect x="866.08" y="1713.0" width="19.97" height="31.0" fill="#a074ab"/><rect x="866.08" y="1773.7" width="19.97" height="103.1" fill="#4aa9c9"/><rect x="866.08" y="1929.8" width="19.97" height="82.8" fill="#4aa9c9"/><rect x="866.08" y="2045.4" width="19.97" height="102.2" fill="#4aa9c9"/><rect x="866.08" y="2167.1" width="19.97" height="107.4" fill="#a074ab"/><rect x="866.08" y="2299.1" width="19.97" height="65.8" fill="#a074ab"/><rect x="866.08" y="2393.5" width="19.97" height="39.3" fill="#a074ab"/><rect x="887.05" y="1713.0" width="19.97" height="77.3" fill="#a074ab"/><rect x="887.05" y="1829.3" width="19.97" height="127.2" fill="#4aa9c9"/><rect x="887.05" y="1980.1" width="19.97" height="66.8" fill="#4aa9c9"/><rect x="887.05" y="2082.0" width="19.97" height="106.8" fill="#4aa9c9"/><rect x="887.05" y="2214.8" width="19.97" height="102.1" fill="#a074ab"/><rect x="887.05" y="2342.9" width="19.97" height="89.9" fill="#a074ab"/><rect x="908.02" y="1734.9" width="19.97" height="110.0" fill="#a074ab"/><rect x="908.02" y="1879.2" width="19.97" height="95.0" fill="#4aa9c9"/><rect x="908.02" y="2007.1" width="19.97" height="88.2" fill="#4aa9c9"/><rect x="908.02" y="2127.1" width="19.97" height="118.5" fill="#a074ab"/><rect x="908.02" y="2277.0" width="19.97" height="94.1" fill="#a074ab"/><rect x="908.02" y="2398.1" width="19.97" height="34.7" fill="#a074ab"/><rect x="928.98" y="1713.0" width="19.97" height="74.7" fill="#a074ab"/><rect x="928.98" y="1824.0" width="19.97" height="113.8" fill="#4aa9c9"/><rect x="928.98" y="1975.0" width="19.97" height="73.3" fill="#4aa9c9"/><rect x="928.98" y="2083.0" width="19.97" height="99.7" fill="#4aa9c9"/><rect x="928.98" y="2204.1" width="19.97" height="100.3" fill="#a074ab"/><rect x="928.98" y="2333.4" width="19.97" height="93.2" fill="#a074ab"/><rect x="949.95" y="1713.0" width="19.97" height="83.1" fill="#a074ab"/><rect x="949.95" y="1822.8" width="19.97" height="102.9" fill="#4aa9c9"/><rect x="949.95" y="1973.9" width="19.97" height="112.8" fill="#4aa9c9"/><rect x="949.95" y="2124.9" width="19.97" height="70.5" fill="#a074ab"/><rect x="949.95" y="2245.9" width="19.97" height="130.5" fill="#a074ab"/><rect x="949.95" y="2396.7" width="19.97" height="36.1" fill="#a074ab"/><rect x="970.92" y="1713.0" width="19.97" height="16.9" fill="#a074ab"/><rect x="970.92" y="1760.4" width="19.97" height="92.5" fill="#4aa9c9"/><rect x="970.92" y="1914.9" width="19.97" height="72.7" fill="#4aa9c9"/><rect x="970.92" y="2035.3" width="19.97" height="97.6" fill="#4aa9c9"/><rect x="970.92" y="2170.0" width="19.97" height="105.7" fill="#a074ab"/><rect x="970.92" y="2300.1" width="19.97" height="95.8" fill="#a074ab"/><rect x="970.92" y="2423.1" width="19.97" height="9.7" fill="#a074ab"/><rect x="991.89" y="1713.0" width="19.97" height="59.6" fill="#a074ab"/><rect x="991.89" y="1805.5" width="19.97" height="90.1" fill="#4aa9c9"/><rect x="991.89" y="1941.8" width="19.97" height="117.7" fill="#4aa9c9"/><rect x="991.89" y="2090.7" width="19.97" height="79.5" fill="#4aa9c9"/><rect x="991.89" y="2217.9" width="19.97" height="109.4" fill="#a074ab"/><rect x="991.89" y="2347.8" width="19.97" height="85.0" fill="#a074ab"/><rect x="1012.85" y="1713.0" width="19.97" height="58.2" fill="#a074ab"/><rect x="1012.85" y="1811.5" width="19.97" height="114.3" fill="#4aa9c9"/><rect x="1012.85" y="1977.0" width="19.97" height="99.9" fill="#4aa9c9"/><rect x="1012.85" y="2121.7" width="19.97" height="96.0" fill="#a074ab"/><rect x="1012.85" y="2251.1" width="19.97" height="119.5" fill="#a074ab"/><rect x="1012.85" y="2395.2" width="19.97" height="37.6" fill="#a074ab"/><rect x="1033.82" y="1713.0" width="19.97" height="54.2" fill="#a074ab"/><rect x="1033.82" y="1828.3" width="19.97" height="98.9" fill="#4aa9c9"/><rect x="1033.82" y="1972.0" width="19.97" height="91.5" fill="#4aa9c9"/><rect x="1033.82" y="2104.4" width="19.97" height="100.0" fill="#a074ab"/><rect x="1033.82" y="2251.1" width="19.97" height="96.4" fill="#a074ab"/><rect x="1033.82" y="2372.5" width="19.97" height="60.3" fill="#a074ab"/><rect x="1054.79" y="1713.0" width="19.97" height="23.8" fill="#a074ab"/><rect x="1054.79" y="1766.0" width="19.97" height="98.7" fill="#4aa9c9"/><rect x="1054.79" y="1917.1" width="19.97" height="70.1" fill="#4aa9c9"/><rect x="1054.79" y="2038.2" width="19.97" height="101.9" fill="#4aa9c9"/><rect x="1054.79" y="2165.4" width="19.97" height="63.3" fill="#a074ab"/><rect x="1054.79" y="2261.5" width="19.97" height="98.6" fill="#a074ab"/><rect x="1054.79" y="2382.2" width="19.97" height="50.6" fill="#a074ab"/><rect x="1075.76" y="1713.0" width="19.97" height="68.9" fill="#a074ab"/><rect x="1075.76" y="1830.0" width="19.97" height="94.7" fill="#4aa9c9"/><rect x="1075.76" y="1969.1" width="19.97" height="108.4" fill="#4aa9c9"/><rect x="1075.76" y="2125.2" width="19.97" height="76.6" fill="#a074ab"/><rect x="1075.76" y="2239.1" width="19.97" height="94.2" fill="#a074ab"/><rect x="1075.76" y="2359.1" width="19.97" height="73.7" fill="#a074ab"/><rect x="1096.73" y="1733.9" width="19.97" height="96.8" fill="#a074ab"/><rect x="1096.73" y="1867.9" width="19.97" height="114.6" fill="#4aa9c9"/><rect x="1096.73" y="2019.0" width="19.97" height="93.0" fill="#4aa9c9"/><rect x="1096.73" y="2144.4" width="19.97" height="85.3" fill="#a074ab"/><rect x="1096.73" y="2269.9" width="19.97" height="114.5" fill="#a074ab"/><rect x="1096.73" y="2411.4" width="19.97" height="21.4" fill="#a074ab"/><rect x="1117.69" y="1713.0" width="19.97" height="38.0" fill="#a074ab"/><rect x="1117.69" y="1778.4" width="19.97" height="86.3" fill="#4aa9c9"/><rect x="1117.69" y="1917.1" width="19.97" height="93.7" fill="#4aa9c9"/><rect x="1117.69" y="2060.6" width="19.97" height="96.1" fill="#4aa9c9"/><rect x="1117.69" y="2195.0" width="19.97" height="90.3" fill="#a074ab"/><rect x="1117.69" y="2315.4" width="19.97" height="109.0" fill="#a074ab"/><rect x="1138.66" y="1713.0" width="19.97" height="54.2" fill="#a074ab"/><rect x="1138.66" y="1795.1" width="19.97" height="104.7" fill="#4aa9c9"/><rect x="1138.66" y="1968.1" width="19.97" height="77.3" fill="#4aa9c9"/><rect x="1138.66" y="2080.1" width="19.97" height="114.5" fill="#a074ab"/><rect x="1138.66" y="2248.2" width="19.97" height="96.4" fill="#a074ab"/><rect x="1138.66" y="2376.7" width="19.97" height="56.1" fill="#a074ab"/><rect x="1159.63" y="1726.2" width="19.97" height="133.4" fill="#4aa9c9"/><rect x="1159.63" y="1907.7" width="19.97" height="73.4" fill="#4aa9c9"/><rect x="1159.63" y="2028.1" width="19.97" height="113.8" fill="#4aa9c9"/><rect x="1159.63" y="2192.9" width="19.97" height="94.2" fill="#a074ab"/><rect x="1159.63" y="2295.1" width="19.97" height="74.6" fill="#a074ab"/><rect x="1159.63" y="2394.2" width="19.97" height="38.6" fill="#a074ab"/><rect x="1180.60" y="1713.0" width="19.97" height="59.2" fill="#a074ab"/><rect x="1180.60" y="1827.1" width="19.97" height="91.5" fill="#4aa9c9"/><rect x="1180.60" y="1948.1" width="19.97" height="104.9" fill="#4aa9c9"/><rect x="1180.60" y="2098.9" width="19.97" height="91.1" fill="#4aa9c9"/><rect x="1180.60" y="2228.0" width="19.97" height="108.7" fill="#a074ab"/><rect x="1180.60" y="2352.9" width="19.97" height="61.6" fill="#a074ab"/><rect x="1201.56" y="1730.6" width="19.97" height="113.9" fill="#a074ab"/><rect x="1201.56" y="1885.4" width="19.97" height="70.1" fill="#4aa9c9"/><rect x="1201.56" y="1986.2" width="19.97" height="93.7" fill="#4aa9c9"/><rect x="1201.56" y="2130.0" width="19.97" height="97.1" fill="#a074ab"/><rect x="1201.56" y="2263.0" width="19.97" height="104.1" fill="#a074ab"/><rect x="1201.56" y="2402.2" width="19.97" height="30.6" fill="#a074ab"/><rect x="1222.53" y="2182.0" width="19.97" height="107.7" fill="#a074ab"/><rect x="1222.53" y="2310.0" width="19.97" height="112.0" fill="#a074ab"/>
<text x="498.0" y="1721.3" font-size="20.6" fill="#444444" textLength="89.0" lengthAdjust="spacingAndGlyphs">12:00 AM</text>
<text x="498.0" y="1781.3" font-size="20.6" fill="#444444" textLength="89.0" lengthAdjust="spacingAndGlyphs">10:00 PM</text>
<text x="504.0" y="1841.3" font-size="20.6" fill="#444444" textLength="77.0" lengthAdjust="spacingAndGlyphs">8:00 PM</text>
<text x="504.0" y="1901.3" font-size="20.6" fill="#444444" textLength="77.0" lengthAdjust="spacingAndGlyphs">6:00 PM</text>
<text x="504.0" y="1961.3" font-size="20.6" fill="#444444" textLength="77.0" lengthAdjust="spacingAndGlyphs">4:00 PM</text>
<text x="504.0" y="2021.3" font-size="20.6" fill="#444444" textLength="77.0" lengthAdjust="spacingAndGlyphs">2:00 PM</text>
<text x="498.0" y="2081.3" font-size="20.6" fill="#444444" textLength="89.0" lengthAdjust="spacingAndGlyphs">12:00 PM</text>
<text x="498.0" y="2141.3" font-size="20.6" fill="#444444" textLength="89.0" lengthAdjust="spacingAndGlyphs">10:00 AM</text>
<text x="504.0" y="2201.3" font-size="20.6" fill="#444444" textLength="77.0" lengthAdjust="spacingAndGlyphs">8:00 AM</text>
<text x="504.0" y="2261.3" font-size="20.6" fill="#444444" textLength="77.0" lengthAdjust="spacingAndGlyphs">6:00 AM</text>
<text x="504.0" y="2321.3" font-size="20.6" fill="#444444" textLength="77.0" lengthAdjust="spacingAndGlyphs">4:00 AM</text>
<text x="504.0" y="2381.3" font-size="20.6" fill="#444444" textLength="77.0" lengthAdjust="spacingAndGlyphs">2:00 AM</text>
<text x="687.4" y="2473.5" font-size="20" fill="#444444" text-anchor="middle">7</text>
<text x="792.2" y="2473.5" font-size="20" fill="#444444" text-anchor="middle">12</text>
<text x="897.0" y="2473.5" font-size="20" fill="#444444" text-anchor="middle">17</text>
<text x="1001.9" y="2473.5" font-size="20" fill="#444444" text-anchor="middle">22</text>
<text x="1106.7" y="2473.5" font-size="20" fill="#444444" text-anchor="middle">27</text>
<text x="1211.5" y="2473.5" font-size="20" fill="#444444" text-anchor="middle">2</text>
<path d="M593 2140.8 H1243.3" stroke="#f0001a" stroke-width="1.6"/><circle cx="593" cy="2140.8" r="4.4" fill="#f0001a"/><circle cx="1243.3" cy="2140.8" r="4.4" fill="#f0001a"/>
</g>
</g>
</svg>
</body></html>
